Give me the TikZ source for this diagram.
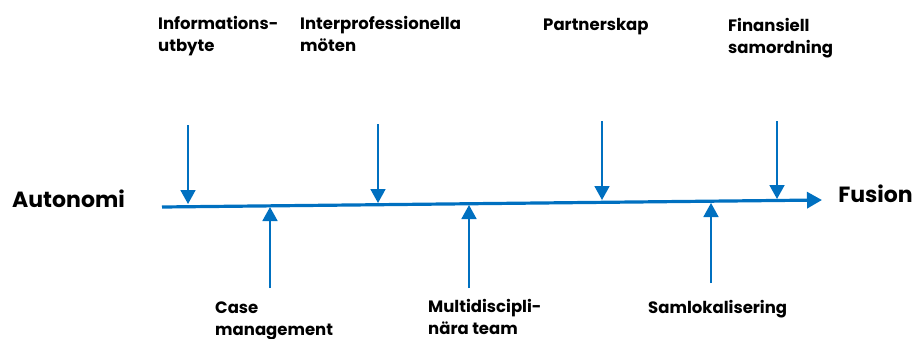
\documentclass[tikz,border=0pt]{standalone}
\usepackage{fontspec}
\setmainfont{Poppins}
\usetikzlibrary{arrows.meta}
\definecolor{axisblue}{HTML}{0070C0}
\begin{document}
\begin{tikzpicture}[x=1pt,y=-1pt,
  lbl/.style={font=\fontsize{16.5}{22}\selectfont\bfseries, inner sep=0pt, anchor=base west, align=left},
  big/.style={font=\fontsize{22}{26}\selectfont\bfseries, inner sep=0pt, anchor=base west},
  ptr/.style={draw=axisblue, line width=1.8pt, -{Triangle[width=15pt,length=14pt]}},
  axis/.style={draw=axisblue, line width=3.2pt, -{Triangle[width=16pt,length=15pt]}}]
\useasboundingbox (0,0) rectangle (915,338);
% axis
\coordinate (a0) at (162,207);
\coordinate (a1) at (822,200);
\draw[axis] (a0) -- (a1);
% labels (base = baseline of the last line)
\node[big] (auto) at (12,207) {Autonomi};
\node[big, anchor=base east] (fus) at (913,202) {Fusion};
\node[lbl] (info) at (158,51) {Informations-\\utbyte};
\node[lbl] (inter) at (300,51) {Interprofessionella\\möten};
\node[lbl] (part) at (543,30) {Partnerskap};
\node[lbl] (fin) at (728,53) {Finansiell\\samordning};
\node[lbl] (case) at (215,335) {Case\\management};
\node[lbl] (multi) at (428,334) {Multidiscipli-\\nära team};
\node[lbl] (saml) at (648,313) {Samlokalisering};
% down arrows
\coordinate (d1s) at (188,125); \coordinate (d1e) at (188,204);
\coordinate (d2s) at (378,124); \coordinate (d2e) at (378,203);
\coordinate (d3s) at (602,121); \coordinate (d3e) at (602,200);
\coordinate (d4s) at (777,121); \coordinate (d4e) at (777,199);
\draw[ptr] (d1s) -- (d1e);
\draw[ptr] (d2s) -- (d2e);
\draw[ptr] (d3s) -- (d3e);
\draw[ptr] (d4s) -- (d4e);
% up arrows
\coordinate (u1s) at (270,288); \coordinate (u1e) at (270,207);
\coordinate (u2s) at (469,288); \coordinate (u2e) at (469,205);
\coordinate (u3s) at (711,283); \coordinate (u3e) at (711,203);
\draw[ptr] (u1s) -- (u1e);
\draw[ptr] (u2s) -- (u2e);
\draw[ptr] (u3s) -- (u3e);
\end{tikzpicture}
\end{document}
